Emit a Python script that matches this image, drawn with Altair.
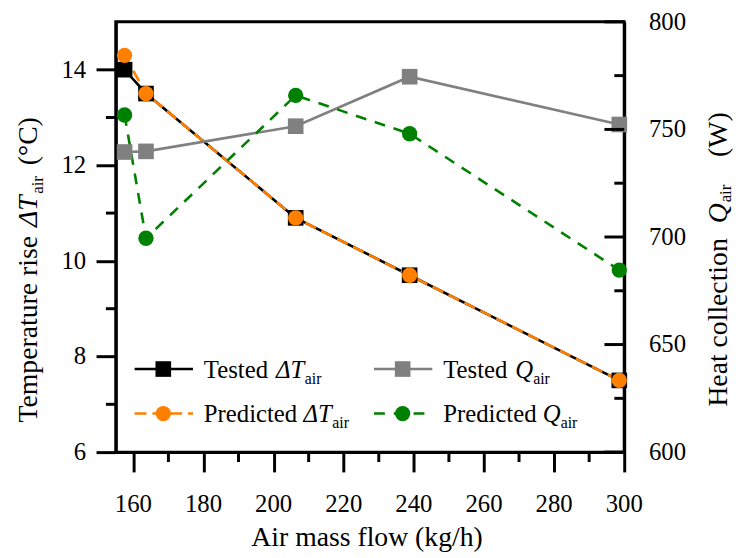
import altair as alt
import pandas as pd

# ---------------- data ----------------
air_flow = [157.5, 163.6, 206.3, 238.8, 298.6]
dt_tested = [14.0, 13.5, 10.9, 9.7, 7.5]
dt_predicted = [14.3, 13.5, 10.9, 9.7, 7.5]
q_tested = [739.5, 739.8, 751.5, 774.5, 752.3]
q_predicted = [756.7, 699.4, 765.8, 748.0, 684.6]

x_ticks = [160, 180, 200, 220, 240, 260, 280, 300]
x_minor = [170, 190, 210, 230, 250, 270, 290]
dt_ticks = [6, 8, 10, 12, 14]
dt_minor = [7, 9, 11, 13]
q_ticks = [600, 650, 700, 750, 800]
q_minor = [625, 675, 725, 775]

df = pd.DataFrame({"flow": air_flow, "dt_t": dt_tested, "dt_p": dt_predicted,
                   "q_t": q_tested, "q_p": q_predicted})

# ---------------- style ----------------
W, H = 514, 435
FONT = "Liberation Serif"
BLACK, ORANGE, GRAY, GREEN = "#000000", "#FF8000", "#808080", "#008000"
TICK_FS, TITLE_FS, LEG_FS, SUB_FS = 25, 28, 25, 16

REG = {" ": 250, "(": 333, ")": 333, "°": 400, "A": 722, "C": 667, "H": 722, "T": 611,
       "P": 556, "W": 944, "a": 444, "c": 444, "d": 500, "e": 444, "f": 333, "g": 500,
       "h": 500, "i": 278, "k": 500, "l": 278, "m": 778, "n": 500, "o": 500, "p": 500,
       "r": 333, "s": 389, "t": 278, "u": 500, "w": 722, "/": 278}
ITA = {"Δ": 612, "T": 556, "Q": 722}


def tw(s, size, italic=False):
    tab = ITA if italic else REG
    return sum(tab.get(ch, 500) for ch in s) * size / 1000.0


xs = alt.Scale(domain=[155, 300], nice=False, zero=False)
ysl = alt.Scale(domain=[6, 15], nice=False, zero=False)
ysr = alt.Scale(domain=[600, 800], nice=False, zero=False)

common_axis = dict(domainColor=BLACK, domainWidth=3, tickColor=BLACK, tickWidth=3,
                   labels=False, title=None, grid=False)
xaxis = alt.Axis(values=x_ticks, tickSize=20, **common_axis)
laxis = alt.Axis(values=dt_ticks, tickSize=20, orient="left", **common_axis)
raxis = alt.Axis(values=q_ticks, ticks=False, orient="right", **common_axis)

base = alt.Chart(df)
X = alt.X("flow:Q", scale=xs, axis=xaxis)

l_line_t = base.mark_line(color=BLACK, strokeWidth=2.6).encode(
    x=X, y=alt.Y("dt_t:Q", scale=ysl, axis=laxis))
l_line_p = base.mark_line(color=ORANGE, strokeWidth=2.6, strokeDash=[12, 6]).encode(
    x=X, y=alt.Y("dt_p:Q", scale=ysl, axis=laxis))
l_pt_t = base.mark_point(shape="square", filled=True, size=250, color=BLACK, opacity=1).encode(
    x=X, y=alt.Y("dt_t:Q", scale=ysl, axis=laxis))
l_pt_p = base.mark_point(shape="circle", filled=True, size=240, color=ORANGE, opacity=1).encode(
    x=X, y=alt.Y("dt_p:Q", scale=ysl, axis=laxis))
l_minor = alt.Chart(pd.DataFrame({"v": dt_minor})).mark_rule(color=BLACK, strokeWidth=3).encode(
    y=alt.Y("v:Q", scale=ysl, axis=laxis), x=alt.value(-10), x2=alt.value(0))
l_labels = alt.Chart(pd.DataFrame({"v": dt_ticks})).mark_text(
    font=FONT, fontSize=TICK_FS, color=BLACK, align="right", baseline="alphabetic", dy=8
).encode(y=alt.Y("v:Q", scale=ysl, axis=laxis), x=alt.value(-30), text=alt.Text("v:Q"))
x_minor_r = alt.Chart(pd.DataFrame({"v": x_minor})).mark_rule(color=BLACK, strokeWidth=3).encode(
    x=alt.X("v:Q", scale=xs, axis=xaxis), y=alt.value(H), y2=alt.value(H + 10))
x_labels = alt.Chart(pd.DataFrame({"v": x_ticks})).mark_text(
    font=FONT, fontSize=TICK_FS, color=BLACK, align="center", baseline="alphabetic"
).encode(x=alt.X("v:Q", scale=xs, axis=xaxis), y=alt.value(H + 61), text=alt.Text("v:Q"))

left = alt.layer(l_line_t, l_line_p, l_pt_t, l_pt_p, l_minor, l_labels, x_minor_r, x_labels)

r_line_t = base.mark_line(color=GRAY, strokeWidth=2.6).encode(
    x=X, y=alt.Y("q_t:Q", scale=ysr, axis=raxis))
r_line_p = base.mark_line(color=GREEN, strokeWidth=2.6, strokeDash=[11, 9]).encode(
    x=X, y=alt.Y("q_p:Q", scale=ysr, axis=raxis))
r_pt_t = base.mark_point(shape="square", filled=True, size=250, color=GRAY, opacity=1).encode(
    x=X, y=alt.Y("q_t:Q", scale=ysr, axis=raxis))
r_pt_p = base.mark_point(shape="circle", filled=True, size=240, color=GREEN, opacity=1).encode(
    x=X, y=alt.Y("q_p:Q", scale=ysr, axis=raxis))
r_major = alt.Chart(pd.DataFrame({"v": q_ticks})).mark_rule(color=BLACK, strokeWidth=3).encode(
    y=alt.Y("v:Q", scale=ysr, axis=raxis), x=alt.value(W - 20), x2=alt.value(W))
r_minor = alt.Chart(pd.DataFrame({"v": q_minor})).mark_rule(color=BLACK, strokeWidth=3).encode(
    y=alt.Y("v:Q", scale=ysr, axis=raxis), x=alt.value(W - 10), x2=alt.value(W))
r_labels = alt.Chart(pd.DataFrame({"v": q_ticks})).mark_text(
    font=FONT, fontSize=TICK_FS, color=BLACK, align="left", baseline="alphabetic", dy=8
).encode(y=alt.Y("v:Q", scale=ysr, axis=raxis), x=alt.value(W + 25), text=alt.Text("v:Q"))

right = alt.layer(r_line_t, r_line_p, r_pt_t, r_pt_p, r_major, r_minor, r_labels)

one = pd.DataFrame({"a": [0]})


def txt(s, x, y, size, italic=False, angle=0, align="left"):
    kw = dict(font=FONT, fontSize=size, color=BLACK, align=align, baseline="alphabetic")
    if italic:
        kw["fontStyle"] = "italic"
    if angle:
        kw["angle"] = angle
    return alt.Chart(one).mark_text(**kw).encode(x=alt.value(x), y=alt.value(y), text=alt.value(s))


extras = []
SP = tw(" ", TITLE_FS)

# x title
extras.append(txt("Air mass flow (kg/h)", W / 2 - 3, H + 95, TITLE_FS, align="center"))

# left rotated title: "Temperature rise ΔT_air (°C)"
bx, y0 = -80, 405
p1 = "Temperature rise"
extras.append(txt(p1, bx, y0, TITLE_FS, angle=270))
y1 = y0 - tw(p1, TITLE_FS) - SP
extras.append(txt("ΔT", bx, y1, TITLE_FS, italic=True, angle=270))
y2 = y1 - tw("ΔT", TITLE_FS, True) - 1
extras.append(txt("air", bx + 6, y2, SUB_FS + 1, angle=270))
y3 = y2 - tw("air", SUB_FS + 1) - SP - 4
extras.append(txt("(°C)", bx, y3, TITLE_FS, angle=270))

# right rotated title: "Heat collection Q_air (W)"
bx, y0 = 618, 389
p1 = "Heat collection"
extras.append(txt(p1, bx, y0, TITLE_FS, angle=270))
y1 = y0 - tw(p1, TITLE_FS) - SP - 8
extras.append(txt("Q", bx, y1, TITLE_FS, italic=True, angle=270))
y2 = y1 - tw("Q", TITLE_FS, True) - 1
extras.append(txt("air", bx + 4, y2, SUB_FS + 1, angle=270))
y3 = y2 - tw("air", SUB_FS + 1) - SP - 21
extras.append(txt("(W)", bx, y3, TITLE_FS, angle=270))

# legend
legend_items = [
    ("Tested", "ΔT", BLACK, "square", None, 48, 351),
    ("Tested", "Q", GRAY, "square", None, 290, 351),
    ("Predicted", "ΔT", ORANGE, "circle", [12, 6], 48, 396),
    ("Predicted", "Q", GREEN, "circle", [11, 9], 290, 396),
]
for word, sym, col, shape, dash, cx, cy in legend_items:
    rk = dict(color=col, strokeWidth=2.6)
    if dash:
        rk["strokeDash"] = dash
    extras.append(alt.Chart(one).mark_rule(**rk).encode(
        x=alt.value(cx - 29), x2=alt.value(cx + 30), y=alt.value(cy)))
    extras.append(alt.Chart(one).mark_point(shape=shape, filled=True, opacity=1, color=col,
                                            size=250 if shape == "square" else 240).encode(
        x=alt.value(cx), y=alt.value(cy)))
    tx = cx + 41
    by = cy + 9
    extras.append(txt(word, tx, by, LEG_FS))
    tx2 = tx + tw(word + " ", LEG_FS)
    extras.append(txt(sym, tx2, by, LEG_FS, italic=True))
    tx3 = tx2 + tw(sym, LEG_FS, True)
    extras.append(txt("air", tx3, by + 6, SUB_FS))

chart = alt.layer(left, right, *extras).resolve_scale(y="independent").properties(
    width=W, height=H,
    autosize=alt.AutoSizeParams(type="none"),
    padding={"left": 109, "top": 11, "right": 112, "bottom": 101},
    background="white",
).configure_view(stroke=BLACK, strokeWidth=3)

chart.save("out.html", embed_options={"renderer": "svg", "actions": False})
